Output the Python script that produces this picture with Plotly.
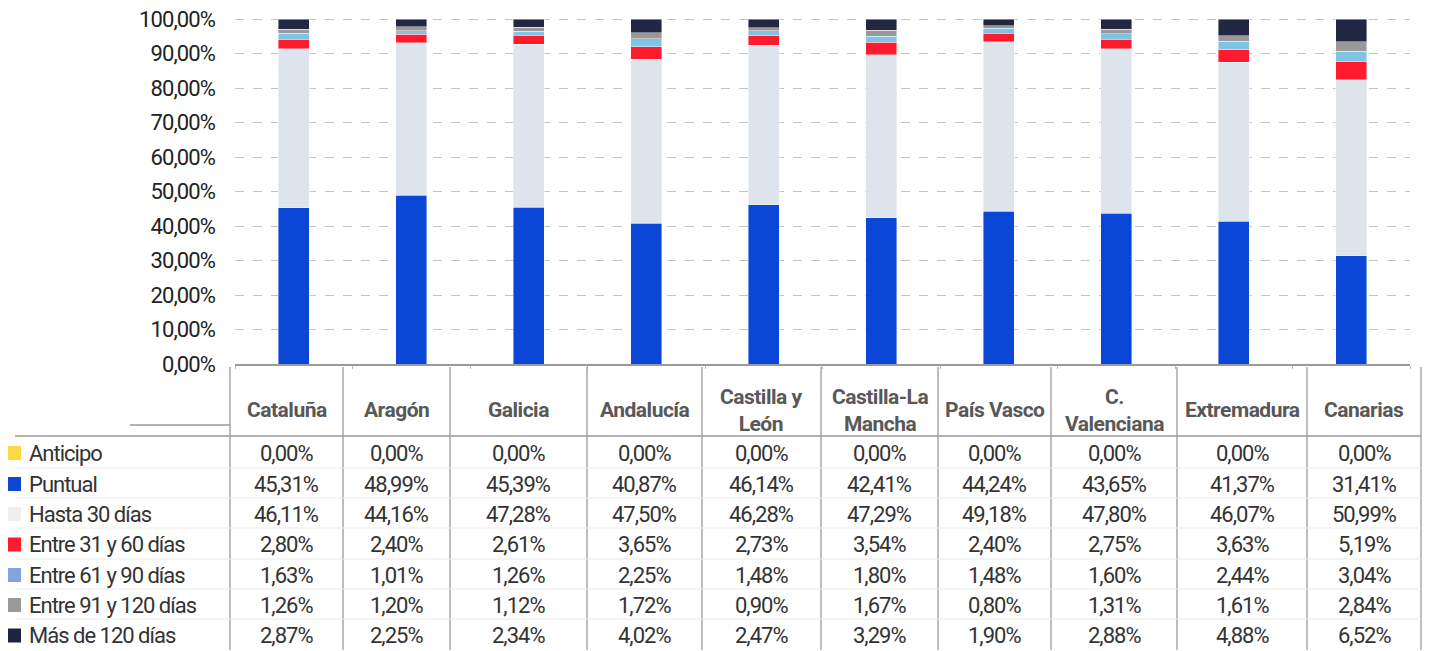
import plotly.graph_objects as go

# --- data ---
regiones = ["Cataluña", "Aragón", "Galicia", "Andalucía", "Castilla y León",
            "Castilla-La Mancha", "País Vasco", "C. Valenciana", "Extremadura", "Canarias"]
cabeceras = ["Cataluña", "Aragón", "Galicia", "Andalucía", "Castilla y<br>León",
             "Castilla-La<br>Mancha", "País Vasco", "C.<br>Valenciana", "Extremadura", "Canarias"]

series = ["Anticipo", "Puntual", "Hasta 30 días", "Entre 31 y 60 días",
          "Entre 61 y 90 días", "Entre 91 y 120 días", "Más de 120 días"]

anticipo = [0.00, 0.00, 0.00, 0.00, 0.00, 0.00, 0.00, 0.00, 0.00, 0.00]
puntual = [45.31, 48.99, 45.39, 40.87, 46.14, 42.41, 44.24, 43.65, 41.37, 31.41]
hasta_30 = [46.11, 44.16, 47.28, 47.50, 46.28, 47.29, 49.18, 47.80, 46.07, 50.99]
entre_31_60 = [2.80, 2.40, 2.61, 3.65, 2.73, 3.54, 2.40, 2.75, 3.63, 5.19]
entre_61_90 = [1.63, 1.01, 1.26, 2.25, 1.48, 1.80, 1.48, 1.60, 2.44, 3.04]
entre_91_120 = [1.26, 1.20, 1.12, 1.72, 0.90, 1.67, 0.80, 1.31, 1.61, 2.84]
mas_120 = [2.87, 2.25, 2.34, 4.02, 2.47, 3.29, 1.90, 2.88, 4.88, 6.52]

valores = [anticipo, puntual, hasta_30, entre_31_60, entre_61_90, entre_91_120, mas_120]

y_ticks = [0, 10, 20, 30, 40, 50, 60, 70, 80, 90, 100]

# bar colours / legend swatch colours (the swatches differ slightly from the bars)
bar_colors = ["#FFD740", "#0A47D6", "#DDE4EC", "#FF1B2D", "#80C4E4", "#999999", "#222843"]
swatch_colors = ["#FFD740", "#0A47D6", "#EEEEEE", "#FF1B2D", "#7FA3DD", "#999999", "#1E2440"]

FONT = "Roboto, sans-serif"

# page has an 8px body margin, so the figure is 8px smaller than the window on each side
W, H = 1423, 643
PL, PT, PW, PH = 235, 17, 1175, 347   # plot area in window pixels (top padded a bit)
Y_TOP = 100.6                          # a little headroom so the 100% grid line is kept


def px(x):
    # window pixel -> paper x
    return (x - PL) / PW


def py(y):
    # window pixel -> paper y
    return (PT + PH - y) / PH


def narrow(txt, ls):
    return f'<span style="letter-spacing:{ls}px">{txt}</span>'


def pct(v):
    return f"{v:.2f}%".replace(".", ",")


fig = go.Figure()
for name, vals, col in zip(series, valores, bar_colors):
    fig.add_trace(go.Bar(x=regiones, y=vals, name=name, marker_color=col,
                         marker_line=dict(width=0.6, color="rgba(255,255,255,0.7)")))

fig.update_layout(
    barmode="stack", bargap=0.736, showlegend=False,
    width=W, height=H, autosize=False,
    margin=dict(l=PL - 8, r=W - (PL - 8) - PW, t=PT - 8, b=H - (PT - 8) - PH, autoexpand=False),
    plot_bgcolor="white", paper_bgcolor="white",
    font=dict(family=FONT, color="#222222"),
)
fig.update_yaxes(range=[0, Y_TOP], tickvals=y_ticks, ticktext=[narrow(pct(t), -0.9) for t in y_ticks],
                 showgrid=True, gridcolor="#C4C4C4", griddash="dash", gridwidth=1.3,
                 zeroline=False, tickfont=dict(size=22, color="#222222"), ticklabelstandoff=19,
                 ticklabeloverflow="allow", automargin=False)
fig.update_xaxes(showticklabels=False, showline=True, linecolor="#9A9A9A", linewidth=1.5,
                 ticks="outside", tickson="boundaries", ticklen=3, tickcolor="#BBBBBB",
                 automargin=False)

# --- data table under the chart ---
col_edges = [230, 343, 450, 587, 702, 821, 938, 1051, 1177, 1307, 1421]
header_top, header_bottom = 367, 436
row_edges = [436, 468, 498, 528, 559, 589, 619, 650]

shapes = []
# vertical column lines
for x in col_edges:
    shapes.append(dict(type="line", xref="paper", yref="paper", x0=px(x), x1=px(x),
                       y0=py(header_top), y1=py(650), line=dict(color="#9A9A9A", width=1.3)))
# short line left of the header
shapes.append(dict(type="line", xref="paper", yref="paper", x0=px(130), x1=px(230),
                   y0=py(425), y1=py(425), line=dict(color="#9A9A9A", width=1.3)))
# header bottom line
shapes.append(dict(type="line", xref="paper", yref="paper", x0=px(15), x1=px(1421),
                   y0=py(header_bottom), y1=py(header_bottom), line=dict(color="#9A9A9A", width=1.5)))
# light row separators
for y in row_edges[1:-1]:
    shapes.append(dict(type="line", xref="paper", yref="paper", x0=px(15), x1=px(1421),
                       y0=py(y), y1=py(y), line=dict(color="#ECECEC", width=1.2)))

annotations = []
for i, head in enumerate(cabeceras):
    xc = (col_edges[i] + col_edges[i + 1]) / 2
    annotations.append(dict(xref="paper", yref="paper", x=px(xc), y=py(410),
                            text="<br>".join(narrow("<b>" + p + "</b>", -0.5) for p in head.split("<br>")),
                            showarrow=False, xanchor="center", yanchor="middle",
                            font=dict(size=21, color="#585858", family=FONT)))

for r, (name, vals) in enumerate(zip(series, valores)):
    yc = (row_edges[r] + row_edges[r + 1]) / 2 + 1
    shapes.append(dict(type="rect", xref="paper", yref="paper", x0=px(7), x1=px(21),
                       y0=py(yc - 7), y1=py(yc + 7), fillcolor=swatch_colors[r], line=dict(width=0)))
    annotations.append(dict(xref="paper", yref="paper", x=px(27), y=py(yc), text=narrow(name, -1),
                            showarrow=False, xanchor="left", yanchor="middle",
                            font=dict(size=22, color="#333333", family=FONT)))
    for i, v in enumerate(vals):
        xc = (col_edges[i] + col_edges[i + 1]) / 2
        annotations.append(dict(xref="paper", yref="paper", x=px(xc), y=py(yc), text=narrow(pct(v), -1),
                                showarrow=False, xanchor="center", yanchor="middle",
                                font=dict(size=22, color="#333333", family=FONT)))

fig.update_layout(shapes=shapes, annotations=annotations)
fig.write_html("out.html")
